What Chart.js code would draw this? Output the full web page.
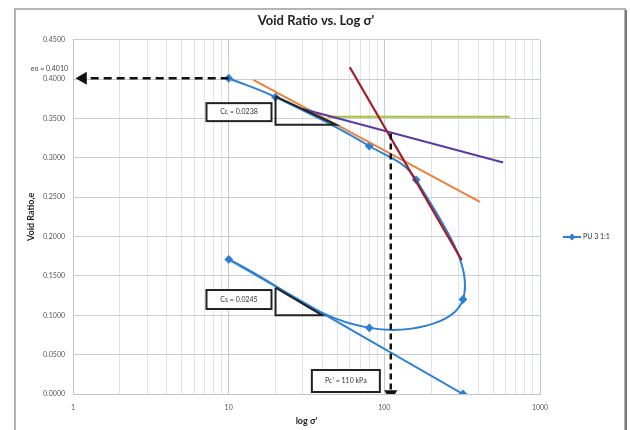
<!DOCTYPE html>
<html>
<head>
<meta charset="utf-8">
<script src="https://cdn.jsdelivr.net/npm/chart.js@4.4.1/dist/chart.umd.min.js"></script>
<style>
  html, body { margin: 0; padding: 0; background: #fff; }
</style>
</head>
<body>
<canvas id="voidChart" width="630" height="430"></canvas>
<script>
// consolidation test, sample PU 3 1:1 (stress in kPa, void ratio e)
const stress = [10, 20, 80, 160, 320, 80, 10];
const voidRatio = [0.401, 0.377, 0.315, 0.272, 0.120, 0.084, 0.171];

// construction lines
const reboundX = [10, 320];
const reboundY = [0.171, 0.0];
const orangeX = [14.4, 411];
const orangeY = [0.399, 0.244];
const greenX = [43, 640];
const greenY = [0.352, 0.352];
const purpleX = [30, 580];
const purpleY = [0.362, 0.294];
const redX = [60, 314];
const redY = [0.415, 0.170];
const ccTriX = [20, 20, 49, 20];
const ccTriY = [0.378, 0.342, 0.342, 0.378];
const csTriX = [20, 20, 40, 20];
const csTriY = [0.135, 0.100, 0.100, 0.135];
const eoArrowX = [10, 1.16];
const eoArrowY = [0.401, 0.401];
const pcArrowX = [110, 110];
const pcArrowY = [0.331, 0.0];

const xTicks = [1, 2, 3, 4, 5, 6, 7, 8, 9, 10, 20, 30, 40, 50, 60, 70, 80, 90,
  100, 200, 300, 400, 500, 600, 700, 800, 900, 1000];
const xLabels = [1, 10, 100, 1000];

const BLUE = "#2b7fd4";
const FONT = "Lato, 'Liberation Sans', sans-serif";

function pts(xs, ys) {
  return xs.map((x, i) => ({ x: x, y: ys[i] }));
}

function line(xs, ys, color, extra) {
  return Object.assign({
    data: pts(xs, ys),
    borderColor: color,
    backgroundColor: color,
    borderWidth: 2,
    pointRadius: 0,
    showLine: true,
    tension: 0
  }, extra || {});
}

const boxes = [
  { text: "Cc = 0.0238", x: 11.65, y: 0.358, w: 65, h: 18 },
  { text: "Cs = 0.0245", x: 11.65, y: 0.120, w: 65, h: 19 },
  { text: "Pc' = 110 kPa", x: 56.6, y: 0.0165, w: 68, h: 22 }
];

const extras = {
  id: "extras",
  beforeDraw(chart) {
    const ctx = chart.ctx;
    ctx.save();
    ctx.fillStyle = "#fff";
    ctx.fillRect(0, 0, chart.width, chart.height);
    ctx.strokeStyle = "#b4b4b4";
    ctx.lineWidth = 2;
    ctx.strokeRect(15, 9, 610, 440);
    ctx.strokeStyle = "#7a7a7a";
    ctx.beginPath();
    ctx.moveTo(626, 10);
    ctx.lineTo(626, 430);
    ctx.stroke();

    // chart title, sits a little right of the plot centre as in Excel
    ctx.fillStyle = "#222";
    ctx.font = "bold 13px " + FONT;
    ctx.textAlign = "center";
    ctx.textBaseline = "middle";
    ctx.fillText("Void Ratio vs. Log \u03c3'", 316, 21);
    ctx.restore();
  },
  afterDatasetsDraw(chart) {
    const ctx = chart.ctx;
    const xs = chart.scales.x, ys = chart.scales.y;
    ctx.save();
    ctx.font = "7px " + FONT;
    ctx.textAlign = "center";
    ctx.textBaseline = "middle";
    boxes.forEach(b => {
      const cx = xs.getPixelForValue(b.x), cy = ys.getPixelForValue(b.y);
      ctx.fillStyle = "#fff";
      ctx.fillRect(cx - b.w / 2, cy - b.h / 2, b.w, b.h);
      ctx.strokeStyle = "#222";
      ctx.lineWidth = 2;
      ctx.strokeRect(cx - b.w / 2, cy - b.h / 2, b.w, b.h);
      ctx.fillStyle = "#333";
      ctx.fillText(b.text, cx, cy);
    });

    // e0 label beside the y axis
    ctx.textAlign = "right";
    ctx.fillStyle = "#444";
    ctx.fillText("eo = 0.4010", chart.chartArea.left - 5, ys.getPixelForValue(0.401) - 10);

    // legend
    const ly = 237;
    ctx.strokeStyle = BLUE;
    ctx.lineWidth = 2;
    ctx.beginPath();
    ctx.moveTo(563, ly);
    ctx.lineTo(581, ly);
    ctx.stroke();
    ctx.fillStyle = BLUE;
    ctx.beginPath();
    ctx.moveTo(572, ly - 3.5);
    ctx.lineTo(575.5, ly);
    ctx.lineTo(572, ly + 3.5);
    ctx.lineTo(568.5, ly);
    ctx.closePath();
    ctx.fill();
    ctx.textAlign = "left";
    ctx.fillStyle = "#333";
    ctx.fillText("PU 3 1:1", 583, ly);
    ctx.restore();
  }
};

new Chart(document.getElementById("voidChart"), {
  type: "scatter",
  data: {
    datasets: [
      line(eoArrowX, eoArrowY, "#111", {
        borderWidth: 2.5, borderDash: [8, 5], order: 0,
        pointRadius: [0, 5], pointStyle: "triangle", pointRotation: -90
      }),
      line(pcArrowX, pcArrowY, "#111", {
        borderWidth: 2.5, borderDash: [6, 4], order: 0,
        pointRadius: [0, 5], pointStyle: "triangle", pointRotation: 180
      }),
      line(ccTriX, ccTriY, "#222", { order: 1 }),
      line(csTriX, csTriY, "#222", { order: 1 }),
      line(redX, redY, "#a11d2b", { order: 2, borderWidth: 2.2 }),
      line(purpleX, purpleY, "#5a3aa5", { order: 3 }),
      line(orangeX, orangeY, "#e8833c", { order: 3 }),
      line(greenX, greenY, "#a4c03c", { order: 4 }),
      line(reboundX, reboundY, BLUE, {
        order: 5, pointRadius: [0, 3], pointStyle: "rectRot"
      }),
      {
        label: "PU 3 1:1",
        data: pts(stress, voidRatio),
        borderColor: BLUE,
        backgroundColor: BLUE,
        borderWidth: 2,
        showLine: true,
        tension: 0.4,
        pointStyle: "rectRot",
        pointRadius: 3,
        order: 5
      }
    ]
  },
  options: {
    responsive: false,
    animation: false,
    layout: { padding: { left: 22, right: 90, top: 39.7, bottom: 0 } },
    plugins: {
      legend: { display: false },
      tooltip: { enabled: false },
      title: { display: false }
    },
    scales: {
      x: {
        type: "logarithmic",
        min: 1,
        max: 1000,
        afterBuildTicks: s => { s.ticks = xTicks.map(v => ({ value: v })); },
        afterFit: s => { s.height = 36; },
        ticks: {
          autoSkip: false,
          maxRotation: 0,
          padding: 10,
          color: "#555",
          font: { family: FONT, size: 7 },
          callback: v => (xLabels.includes(v) ? String(v) : "")
        },
        grid: {
          drawTicks: false,
          color: c => (xLabels.includes(c.tick.value) ? "#c6cad4" : "#e1e3e9")
        },
        border: { color: "#bfc3cc" },
        title: {
          display: true,
          text: "log \u03c3'",
          color: "#222",
          font: { family: FONT, size: 9, weight: "bold" },
          padding: { top: 0, bottom: 4 }
        }
      },
      y: {
        min: 0,
        max: 0.45,
        afterFit: s => { s.width = 51; },
        ticks: {
          stepSize: 0.05,
          padding: 8,
          color: "#555",
          font: { family: FONT, size: 7 },
          callback: v => v.toFixed(4)
        },
        grid: { drawTicks: false, color: "#c9cdd6" },
        border: { color: "#bfc3cc" },
        title: {
          display: true,
          text: "Void Ratio,e",
          color: "#222",
          font: { family: FONT, size: 9, weight: "bold" },
          padding: { top: 4, bottom: 0 }
        }
      }
    }
  },
  plugins: [extras]
});
</script>
</body>
</html>
